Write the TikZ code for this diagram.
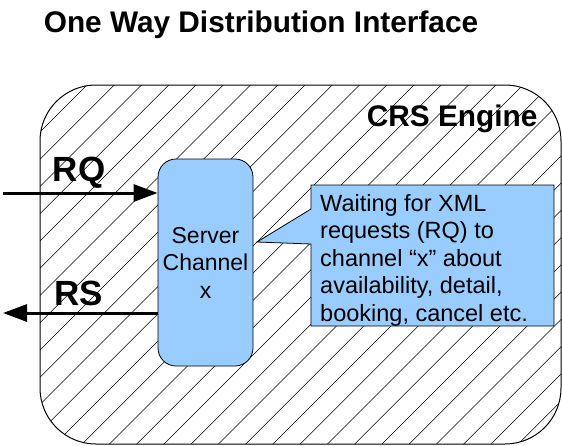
\documentclass[tikz,border=0pt]{standalone}
\usepackage{fontspec}
\setmainfont{Liberation Sans}
\usetikzlibrary{arrows.meta}
\definecolor{chanblue}{RGB}{153,204,255}
\tikzset{
	hatch/.style={line width=.6pt},
	chanbox/.style={draw,line width=.8pt,fill=chanblue,rounded corners=18pt,minimum width=95pt,minimum height=207pt,align=center,font=\fontsize{23}{27.5}\selectfont},
	flow/.style={line width=3pt,-{Triangle[length=24pt,width=17pt]}},
	biglabel/.style={font=\fontsize{35}{35}\selectfont\bfseries},
	head/.style={font=\fontsize{29.8}{30}\selectfont\bfseries}
}
\begin{document}
\begin{tikzpicture}[x=1pt,y=-1pt]
\useasboundingbox (0,0) rectangle (562,445);
\node[head] (title) at (261,25) {One Way Distribution Interface};
\begin{scope}
\clip[rounded corners=56pt] (40,85) rectangle (561,444);
\foreach \k in {-22,...,10}
{
	\draw[hatch] (717+27.25*\k-445,445) -- (717+27.25*\k,0);
}
\end{scope}
\draw[rounded corners=56pt,line width=1pt] (40,85) rectangle (561,444);
\node[head,anchor=east] (engine) at (541,119) {CRS Engine};
\node[chanbox] (server) at (205.5,262.5) {Server\\Channel\\x};
\coordinate (rqin) at (3,193);
\coordinate (rsout) at (3,313);
\draw[flow] (rqin) -- (server.west |- rqin);
\draw[flow] (server.west |- rsout) -- (rsout);
\node[biglabel] (rq) at (79,173) {RQ};
\node[biglabel] (rs) at (79,293) {RS};
% callout
\coordinate (tip) at (257,242);
\draw[fill=chanblue,line width=.8pt] (311,185) -- (554,185) -- (554,326) -- (311,326) -- (311,244) -- (tip) -- (311,209) -- cycle;
\node[anchor=west,inner sep=0,align=left,font=\fontsize{23.5}{27.5}\selectfont] (note) at (320,260) {Waiting for XML\\requests (RQ) to\\channel “x” about\\availability, detail,\\booking, cancel etc.};
\end{tikzpicture}
\end{document}
